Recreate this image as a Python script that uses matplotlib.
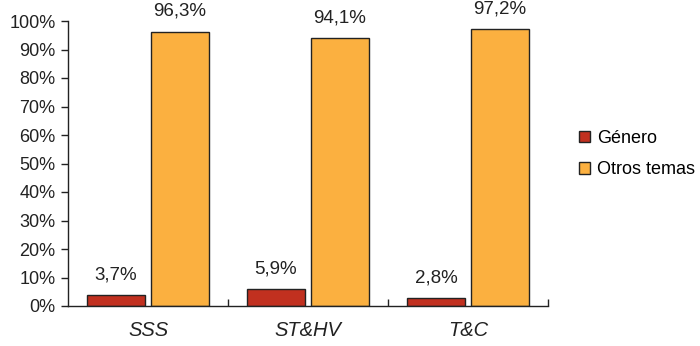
import matplotlib.pyplot as plt
import numpy as np
from matplotlib.patches import Patch

plt.rcParams['font.family'] = ['Liberation Sans', 'DejaVu Sans']

categorias = ['SSS', 'ST&HV', 'T&C']
genero = [3.7, 5.9, 2.8]
otros = [96.3, 94.1, 97.2]
series = ['Género', 'Otros temas']
colores = ['#C1301F', '#FBB040']

fig = plt.figure(figsize=(7, 3.46), dpi=100)
ax = fig.add_axes([68/700, 40/346, 480/700, 285/346])

x = np.arange(len(categorias))
w = 0.36
for vals, off, col in [(genero, -0.2, colores[0]), (otros, 0.2, colores[1])]:
    bars = ax.bar(x + off, vals, w, color=col, edgecolor='#222222', linewidth=1)
    for b, v in zip(bars, vals):
        ax.annotate(f'{v:.1f}%'.replace('.', ','), (b.get_x() + b.get_width()/2, v),
                    xytext=(0, 8.5), textcoords='offset points', ha='center', va='bottom',
                    fontsize=13.5, color='#222222')

ax.set_xlim(-0.5, 2.5)
ax.set_ylim(0, 100)
ax.set_yticks(range(0, 101, 10))
ax.set_yticklabels([f'{v}%' for v in range(0, 101, 10)], fontsize=13, color='#222222')
ax.tick_params(axis='y', direction='out', length=5, width=1, color='#222222', pad=4)

ax.set_xticks(x)
ax.set_xticklabels(categorias, fontsize=14.5, style='italic', color='#222222')
ax.tick_params(axis='x', which='major', length=0, pad=11)
ax.set_xticks([0.5, 1.5, 2.5], minor=True)
ax.tick_params(axis='x', which='minor', direction='in', length=5, width=1, color='#222222')

for s in ['top', 'right']:
    ax.spines[s].set_visible(False)
for s in ['left', 'bottom']:
    ax.spines[s].set_color('#222222')
    ax.spines[s].set_linewidth(1)

handles = [Patch(facecolor=c, edgecolor='#222222', linewidth=1) for c in colores]
fig.legend(handles, series, loc='center left', bbox_to_anchor=(563/700, 1 - 154/346),
           frameon=False, fontsize=13, handlelength=0.6, handleheight=0.6,
           handletextpad=0.4, labelspacing=0.8)

fig.savefig('out.png', dpi=100)
